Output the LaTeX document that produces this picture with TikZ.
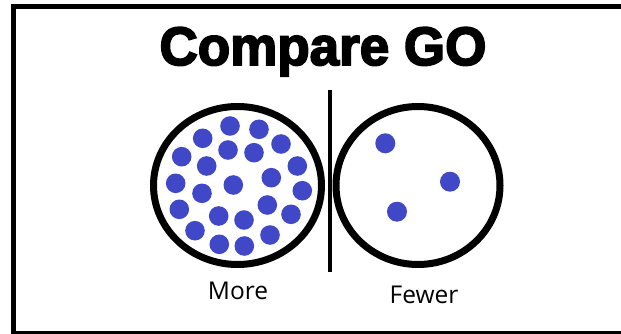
\documentclass[tikz,border=0pt]{standalone}
\usepackage{fontspec}
\setmainfont{Open Sans}
\newfontfamily\titlefont{Liberation Sans}[BoldFeatures={FakeBold=3.5,FakeStretch=1.06}]
\usepackage{tikz}
\definecolor{dotblue}{RGB}{64,72,200}

\begin{document}
\begin{tikzpicture}[x=1pt,y=-1pt,
  dot/.style={fill=dotblue},
  ring/.style={line width=7pt},
  lbl/.style={font=\fontsize{24.5}{28}\selectfont,anchor=base,inner sep=0pt}]
\clip (0,0) rectangle (621,334);
\fill[white] (0,0) rectangle (621,334);
\draw[line width=5pt] (13.5,6.5) rectangle (640,333.5);
\node[anchor=base,inner sep=0pt,font=\titlefont\bfseries\fontsize{50}{60}\selectfont] (title) at (323,65) {\scalebox{1}[1.08]{Compare GO}};
\coordinate (L) at (237.5,185.5); \coordinate (R) at (418,185.5);
\coordinate (top) at (330,90); \coordinate (bot) at (330,272);
\draw[ring] (L) ellipse [x radius=84,y radius=79];
\draw[ring] (R) ellipse [x radius=82,y radius=79];
\draw[line width=4.5pt] (top)--(bot);
% many dots
\foreach \p in {(230,126),(259,129.3),(202.7,138.3),(281,144),(228,150),(254,152.7),
  (181.7,156.7),(206.7,166),(297.3,166),(175.7,183.3),(233.3,185),(271.3,177.7),
  (202,193.3),(302.3,190.7),(179.3,209.3),(267.3,205),(218.7,216),(244,220),
  (291,214.3),(195,230.7),(270,235),(219.3,244.3),(244.3,246)}
  \fill[dot] \p circle (9.8);
% few dots
\foreach \p in {(385.3,143.3),(450,181.7),(397,211.7)}
  \fill[dot] \p circle (10);
\node[lbl] (more) at (238,299.3) {More};
\node[lbl] (fewer) at (424,303.3) {Fewer};
\end{tikzpicture}
\end{document}
